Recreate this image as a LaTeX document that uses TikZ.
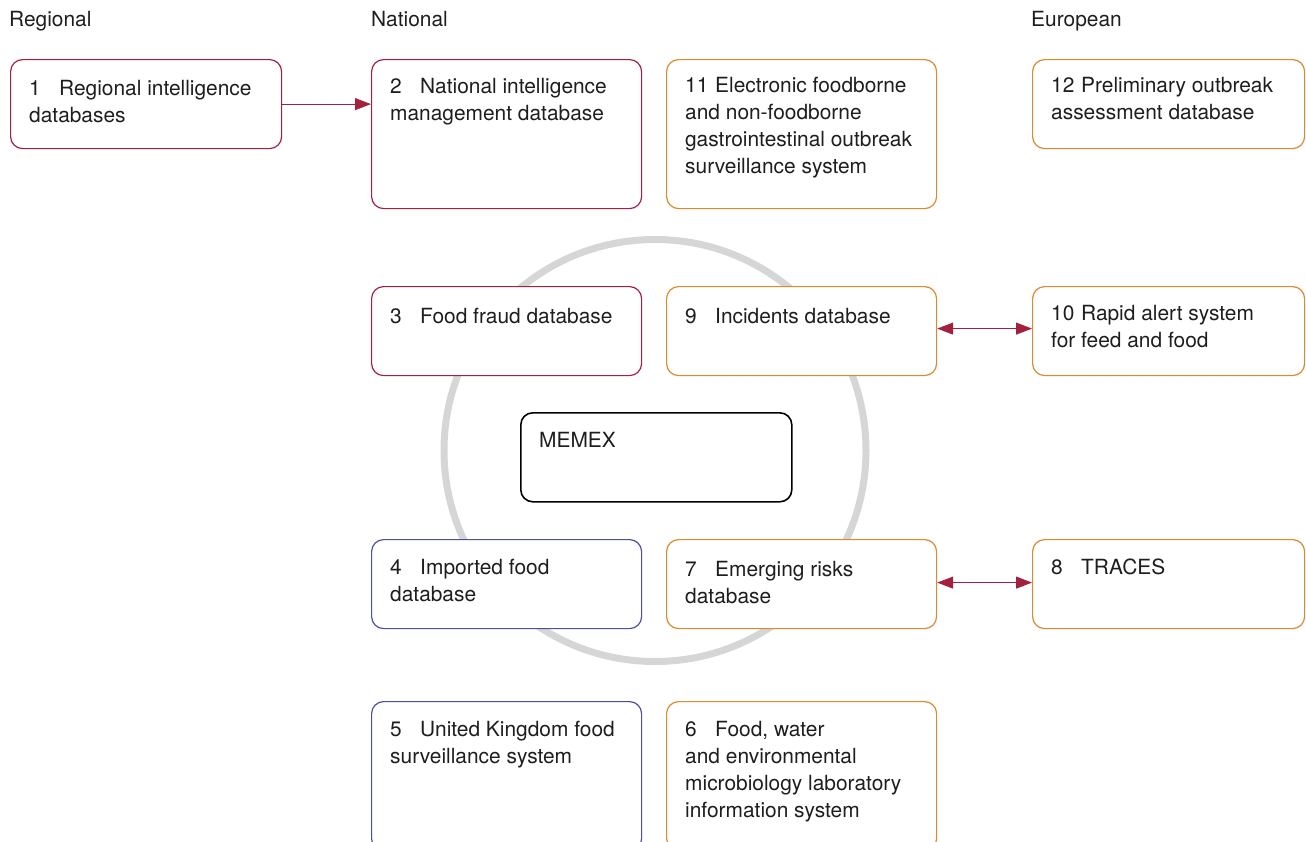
\documentclass[tikz,border=0pt]{standalone}
\usepackage{fontspec}
\setmainfont{TeX Gyre Heros}
\usetikzlibrary{arrows.meta,calc}
\definecolor{crim}{HTML}{A3213F}
\definecolor{orng}{HTML}{DD8A2C}
\definecolor{blu}{HTML}{4F4FA0}
\definecolor{txt}{HTML}{1E1E1E}
\definecolor{ringc}{HTML}{D6D6D6}
\tikzset{
  dbbox/.style={draw, rounded corners=12pt, line width=1.2pt, fill=white, anchor=north west, inner sep=0pt},
  lbl/.style={anchor=north west, inner sep=0pt, align=left, text=txt, font=\fontsize{20.9}{27}\selectfont},
  hdr/.style={anchor=base west, inner sep=0pt, text=txt, font=\fontsize{20.9}{27}\selectfont},
  conn/.style={draw=crim, line width=1pt},
  tip/.tip={Triangle[length=16pt,width=12pt]}
}
\newcommand\dbnode[9]{%
  \node[dbbox, draw=#2, minimum width=#5pt, minimum height=#6pt] (#1) at (#3,#4) {};
  \node[lbl] (#1t) at ($(#1.north west)+(19,{#7-15})$) {#8#9};}
\newcommand\nb[1]{\makebox[30pt][l]{#1}}
\begin{document}
\begin{tikzpicture}[x=1pt,y=-1pt]
\useasboundingbox (0,0) rectangle (1306,841);
\clip (0,0) rectangle (1306,841);
% ring
\node[circle, draw=ringc, line width=7pt, minimum size=422pt, inner sep=0pt] (ring) at (655,450.5) {};
% headers
\node[hdr] (hreg) at (9,26) {Regional};
\node[hdr] (hnat) at (371,26) {National};
\node[hdr] (heur) at (1031,26) {European};
% boxes
\dbnode{b1}{crim}{10}{59}{271}{89}{36}{\nb{1}}{Regional intelligence\\databases}
\dbnode{b2}{crim}{371}{59}{270}{149}{34}{\nb{2}}{National intelligence\\management database}
\dbnode{b11}{orng}{666}{59}{270}{149}{33}{\nb{11}}{Electronic foodborne\\and non-foodborne\\gastrointestinal outbreak\\surveillance system}
\dbnode{b12}{orng}{1032}{59}{272}{89}{33}{\nb{12}}{Preliminary outbreak\\assessment database}
\dbnode{b3}{crim}{371}{286}{270}{89}{37}{\nb{3}}{Food fraud database}
\dbnode{b9}{orng}{666}{286}{270}{89}{37}{\nb{9}}{Incidents database}
\dbnode{b10}{orng}{1032}{286}{272}{89}{34}{\nb{10}}{Rapid alert system\\for feed and food}
\node[dbbox, draw=black, line width=1.6pt, minimum width=271pt, minimum height=89pt] (memex) at (520,412) {};
\node[lbl] (memext) at ($(memex.north west)+(19,20)$) {MEMEX};
\dbnode{b4}{blu}{371}{539}{270}{89}{35}{\nb{4}}{Imported food\\database}
\dbnode{b7}{orng}{666}{539}{270}{89}{37}{\nb{7}}{Emerging risks\\database}
\dbnode{b8}{orng}{1032}{539}{272}{89}{35}{\nb{8}}{TRACES}
\dbnode{b5}{blu}{371}{701}{270}{149}{35}{\nb{5}}{United Kingdom food\\surveillance system}
\dbnode{b6}{orng}{666}{701}{270}{149}{35}{\nb{6}}{Food, water\\and environmental\\microbiology laboratory\\information system}
% connectors
\draw[conn, -tip] (b1.east) -- (b1.east -| b2.west);
\draw[conn, tip-tip] ([yshift=2.5pt]b9.east) -- ([yshift=2.5pt]b9.east -| b10.west);
\draw[conn, tip-tip] ([yshift=1.5pt]b7.east) -- ([yshift=1.5pt]b7.east -| b8.west);
\end{tikzpicture}
\end{document}
